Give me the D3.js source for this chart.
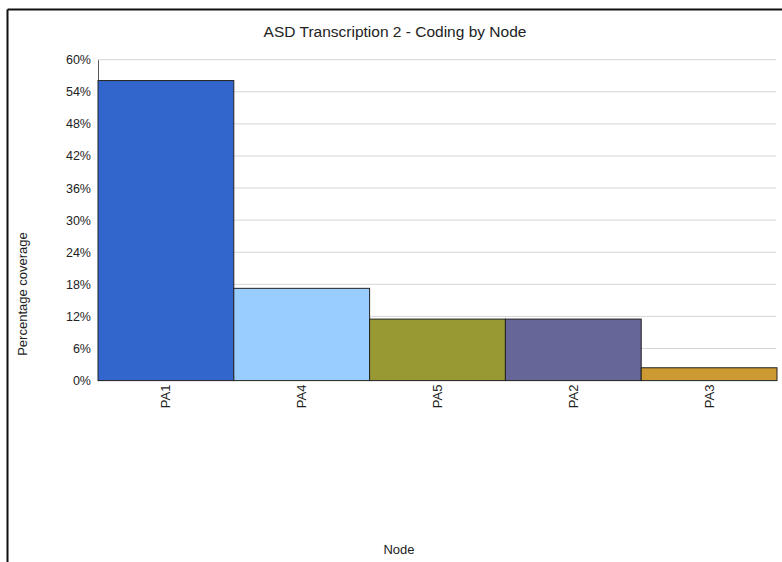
<!DOCTYPE html>
<html>
<head>
<meta charset="utf-8">
<script src="https://cdn.jsdelivr.net/npm/d3@7"></script>
<style>
  html, body { margin: 0; padding: 0; background: #fff; }
  svg { display: block; }
  text { font-family: "Liberation Sans", Arial, sans-serif; fill: #222; }
</style>
</head>
<body>
<svg id="chart" width="782" height="562"></svg>
<script>
// Coverage per node (percent)
const nodes = ["PA1", "PA4", "PA5", "PA2", "PA3"];
const coverage = [56.1, 17.25, 11.5, 11.5, 2.4];
const barColors = ["#3366CC", "#99CCFF", "#999933", "#666699", "#CC9933"];
const yTicks = [0, 6, 12, 18, 24, 30, 36, 42, 48, 54, 60];
const chartTitle = "ASD Transcription 2 - Coding by Node";
const xTitle = "Node";
const yTitle = "Percentage coverage";

const svg = d3.select("#chart");
const plot = { left: 98, right: 777, top: 59.7, bottom: 380.6 };

// outer frame (top and left edges visible)
svg.append("line").attr("x1", 7.5).attr("x2", 782).attr("y1", 9.5).attr("y2", 9.5)
  .attr("stroke", "#111").attr("stroke-width", 2);
svg.append("line").attr("x1", 7.5).attr("x2", 7.5).attr("y1", 9.5).attr("y2", 562)
  .attr("stroke", "#111").attr("stroke-width", 2);

const x = d3.scaleBand().domain(nodes).range([plot.left, plot.right]).padding(0);
const y = d3.scaleLinear().domain([0, 60]).range([plot.bottom, plot.top]);

// gridlines
svg.append("g")
  .selectAll("line")
  .data(yTicks.filter(t => t > 0))
  .join("line")
  .attr("x1", plot.left).attr("x2", plot.right - 1)
  .attr("y1", d => y(d)).attr("y2", d => y(d))
  .attr("stroke", "#d6d6d6").attr("stroke-width", 1);

// y axis
const yAxis = d3.axisLeft(y).tickValues(yTicks).tickFormat(d => d + "%").tickSize(0).tickPadding(7);
const yg = svg.append("g").attr("transform", `translate(${plot.left},0)`).call(yAxis);
yg.select(".domain").attr("stroke", "#555");
yg.selectAll("text").attr("font-size", 12.5).attr("fill", "#222");

// bars
svg.append("g")
  .selectAll("rect")
  .data(nodes.map((n, i) => ({ n, v: coverage[i], c: barColors[i] })))
  .join("rect")
  .attr("x", d => x(d.n))
  .attr("y", d => y(d.v))
  .attr("width", x.bandwidth())
  .attr("height", d => y(0) - y(d.v))
  .attr("fill", d => d.c)
  .attr("stroke", "#222")
  .attr("stroke-width", 1);

// x axis labels (rotated)
const xAxis = d3.axisBottom(x).tickSize(0).tickPadding(0);
const xg = svg.append("g").attr("transform", `translate(0,${plot.bottom})`).call(xAxis);
xg.select(".domain").remove();
xg.selectAll("text")
  .attr("font-size", 13)
  .attr("fill", "#222")
  .attr("transform", "rotate(-90)")
  .attr("text-anchor", "end")
  .attr("x", -4)
  .attr("y", 0)
  .attr("dy", "0.35em");

// titles
svg.append("text").attr("x", 395).attr("y", 37).attr("text-anchor", "middle")
  .attr("font-size", 15.5).text(chartTitle);
svg.append("text").attr("x", 399).attr("y", 554).attr("text-anchor", "middle")
  .attr("font-size", 13).text(xTitle);
svg.append("text").attr("transform", "translate(27,294) rotate(-90)").attr("text-anchor", "middle")
  .attr("font-size", 13).text(yTitle);
</script>
</body>
</html>
